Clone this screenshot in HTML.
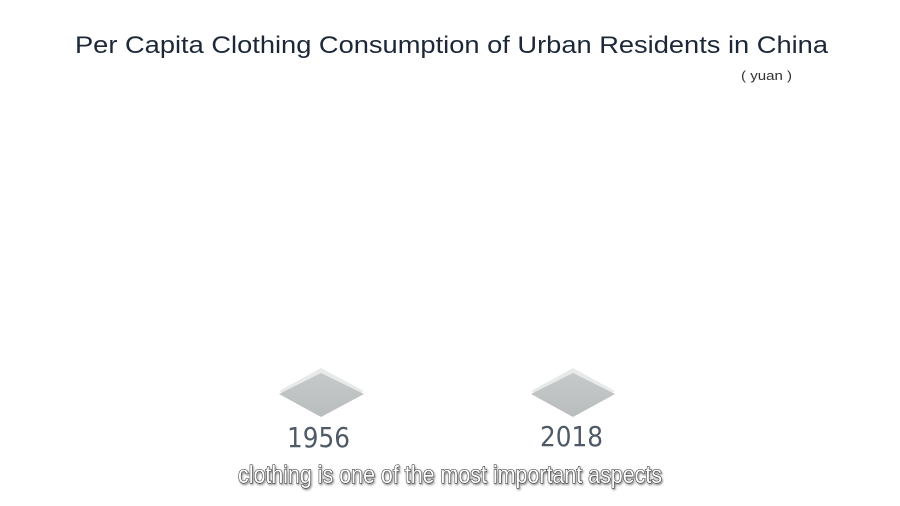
<!DOCTYPE html>
<html>
<head>
<meta charset="utf-8">
<style>
html,body{margin:0;padding:0;background:#fff;}
svg{display:block;}
</style>
</head>
<body>
<svg width="900" height="506" viewBox="0 0 900 506" xmlns="http://www.w3.org/2000/svg">
  <defs>
    <linearGradient id="dg" x1="0" y1="0" x2="0" y2="1">
      <stop offset="0" stop-color="#c6c9c9"/>
      <stop offset="1" stop-color="#b9bdbd"/>
    </linearGradient>
    <filter id="sh" x="-10%" y="-30%" width="120%" height="160%">
      <feGaussianBlur in="SourceAlpha" stdDeviation="1"/>
      <feOffset dx="1" dy="1.5" result="o"/>
      <feFlood flood-color="#888"/>
      <feComposite in2="o" operator="in"/>
      <feMerge><feMergeNode/><feMergeNode in="SourceGraphic"/></feMerge>
    </filter>
  </defs>
  <rect width="900" height="506" fill="#fff"/>

  <text x="75" y="53" font-family="Liberation Sans, sans-serif" font-size="24" fill="#1c2838" textLength="753" lengthAdjust="spacingAndGlyphs">Per Capita Clothing Consumption of Urban Residents in China</text>
  <text x="741" y="80" font-family="Liberation Sans, sans-serif" font-size="13" fill="#333" textLength="51" lengthAdjust="spacingAndGlyphs">( yuan )</text>

  <!-- diamond 1 -->
  <polygon points="321,368 364,391 321,414 279,391" fill="#e8eaea"/>
  <polygon points="321,373 364,394 321,417 279,394" fill="url(#dg)"/>
  <!-- diamond 2 -->
  <polygon points="573,368 615,391 573,414 531,391" fill="#e8eaea"/>
  <polygon points="573,373 615,394 573,417 531,394" fill="url(#dg)"/>

  <text x="287" y="447" font-family="DejaVu Sans, sans-serif" font-size="28" fill="#4f5a66" textLength="63" lengthAdjust="spacingAndGlyphs">1956</text>
  <text x="540" y="446" font-family="DejaVu Sans, sans-serif" font-size="28" fill="#4f5a66" textLength="63" lengthAdjust="spacingAndGlyphs">2018</text>

  <text x="238" y="483" font-family="Liberation Sans, sans-serif" font-size="25" fill="#ffffff" stroke="#222" stroke-width="1.1" paint-order="stroke" filter="url(#sh)" textLength="424" lengthAdjust="spacingAndGlyphs">clothing is one of the most important aspects</text>
</svg>
</body>
</html>
